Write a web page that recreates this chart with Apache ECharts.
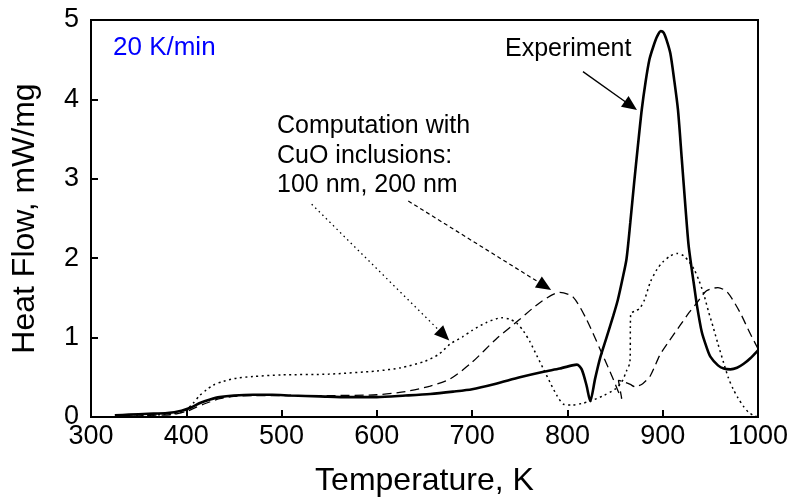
<!DOCTYPE html>
<html><head><meta charset="utf-8">
<script src="https://cdn.jsdelivr.net/npm/echarts@6/dist/echarts.min.js"></script>
<style>html,body{margin:0;padding:0;background:#fff}#c{width:793px;height:502px}</style>
</head><body><div id="c"></div>
<script>
const xTicks = [300, 400, 500, 600, 700, 800, 900, 1000];
const yTicks = [0, 1, 2, 3, 4, 5];

const expT  = [325,340,360,380,395,405,415,425,435,450,470,490,510,540,570,600,630,656,680,700,725,750,775,792,805,810,815,820,824,829,834,841,848,853,858,862,866,870,874,878,882,886,890,894,898,901,904,908,912,916,920,924,927,930,933,936,941,946,950,958,964,971,978,985,992,1000];
const expHF = [0.02,0.03,0.04,0.05,0.08,0.12,0.18,0.22,0.25,0.27,0.28,0.28,0.27,0.26,0.25,0.25,0.27,0.29,0.32,0.35,0.42,0.50,0.57,0.61,0.65,0.66,0.60,0.40,0.20,0.48,0.73,1.00,1.27,1.48,1.75,1.99,2.45,2.95,3.42,3.87,4.22,4.50,4.66,4.79,4.86,4.84,4.75,4.58,4.25,3.87,3.25,2.62,2.18,1.90,1.65,1.40,1.07,0.88,0.76,0.65,0.61,0.60,0.62,0.67,0.74,0.84];

const c100T  = [330,360,385,395,400,407,414,421,428,439,453,470,500,550,600,625,650,665,677,690,700,715,731,740,747,754,761,768,775,782,789,796,805,815,824,838,850,857,862,865.6,866.4,872,876,881,887,894,900,908,915,922,928,933,938,943,948,953,958,964,969,974,979,985,990,995,1000];
const c100HF = [0.00,0.02,0.04,0.06,0.09,0.17,0.27,0.34,0.40,0.45,0.49,0.51,0.53,0.54,0.58,0.62,0.70,0.79,0.92,1.01,1.09,1.19,1.25,1.23,1.18,1.08,0.94,0.77,0.60,0.43,0.27,0.16,0.15,0.17,0.20,0.27,0.35,0.44,0.58,0.69,1.30,1.34,1.37,1.48,1.70,1.86,1.95,2.03,2.06,2.03,1.95,1.86,1.72,1.55,1.33,1.13,0.92,0.68,0.49,0.35,0.24,0.13,0.06,0.02,0.00];

const c200T  = [330,360,385,400,410,420,435,450,470,500,550,600,630,656,677,700,725,750,771,792,806,820,834,848,853,857,853.5,860,866,871,879,887,897,907,918,928,936,946,958,968,981,991,1000];
const c200HF = [0.00,0.02,0.03,0.07,0.12,0.17,0.23,0.26,0.27,0.27,0.27,0.28,0.32,0.39,0.48,0.69,0.98,1.23,1.44,1.57,1.51,1.23,0.86,0.48,0.33,0.23,0.46,0.44,0.41,0.38,0.42,0.52,0.78,0.96,1.15,1.32,1.44,1.59,1.63,1.57,1.32,1.07,0.86];

const FONT = "'Liberation Sans', Arial, sans-serif";
const pairs = (xs, ys) => xs.map((x, i) => [x, ys[i]]);

const chart = echarts.init(document.getElementById('c'), null, {renderer: 'canvas'});
chart.setOption({
  animation: false,
  backgroundColor: '#fff',
  grid: {left: 91, right: 35, top: 20, bottom: 84, show: true, borderColor: '#000', borderWidth: 2, backgroundColor: 'transparent'},
  xAxis: {
    type: 'value', min: xTicks[0], max: xTicks[xTicks.length - 1], interval: 100,
    name: 'Temperature, K', nameLocation: 'middle', nameGap: 48,
    nameTextStyle: {fontFamily: FONT, fontSize: 32, color: '#000'},
    axisLine: {show: true, lineStyle: {color: '#000', width: 2}},
    axisTick: {show: true, inside: true, length: 7, lineStyle: {color: '#000', width: 2}},
    axisLabel: {fontFamily: FONT, fontSize: 27, color: '#000', margin: 6, formatter: v => String(v)},
    splitLine: {show: false}
  },
  yAxis: {
    type: 'value', min: yTicks[0], max: yTicks[yTicks.length - 1], interval: 1,
    name: 'Heat Flow, mW/mg', nameLocation: 'middle', nameGap: 50,
    nameTextStyle: {fontFamily: FONT, fontSize: 32, color: '#000'},
    axisLine: {show: true, lineStyle: {color: '#000', width: 2}},
    axisTick: {show: true, inside: true, length: 7, lineStyle: {color: '#000', width: 2}},
    axisLabel: {fontFamily: FONT, fontSize: 27, color: '#000', margin: 12, formatter: v => String(v)},
    splitLine: {show: false}
  },
  series: [
    {
      name: 'Computation 200 nm', type: 'line', data: pairs(c200T, c200HF), showSymbol: false, smooth: 0.25,
      lineStyle: {color: '#000', width: 1.3, type: [9, 5]},
      markLine: {
        silent: true, symbol: ['none', 'triangle'], symbolSize: [13, 15], label: {show: false},
        lineStyle: {color: '#000', width: 1.2, type: [4, 3]},
        data: [[{coord: [633, 2.72]}, {coord: [776.2, 1.65]}]]
      }
    },
    {
      name: 'Computation 100 nm', type: 'line', data: pairs(c100T, c100HF), showSymbol: false, smooth: 0.25,
      lineStyle: {color: '#000', width: 1.5, type: [2, 3.5]},
      markLine: {
        silent: true, symbol: ['none', 'triangle'], symbolSize: [13, 15], label: {show: false},
        lineStyle: {color: '#000', width: 1.3, type: [1.5, 3.5]},
        data: [[{coord: [531.6, 2.68]}, {coord: [670.4, 1.03]}]]
      }
    },
    {
      name: 'Experiment', type: 'line', data: pairs(expT, expHF), showSymbol: false, smooth: 0.25,
      lineStyle: {color: '#000', width: 2.6},
      markLine: {
        silent: true, symbol: ['none', 'triangle'], symbolSize: [13, 15], label: {show: false},
        lineStyle: {color: '#000', width: 1.3, type: 'solid'},
        data: [[{coord: [816.3, 4.35]}, {coord: [866.6, 3.92]}]]
      }
    }
  ],
  graphic: [
    {type: 'text', left: 113, top: 35, style: {text: '20 K/min', font: "26px " + FONT, fill: '#0000ff'}},
    {type: 'text', left: 505, top: 37, style: {text: 'Experiment', font: "25px " + FONT, fill: '#000'}},
    {type: 'text', left: 277, top: 114, style: {text: 'Computation with', font: "25px " + FONT, fill: '#000'}},
    {type: 'text', left: 277, top: 144, style: {text: 'CuO inclusions:', font: "25px " + FONT, fill: '#000'}},
    {type: 'text', left: 277, top: 173, style: {text: '100 nm, 200 nm', font: "25px " + FONT, fill: '#000'}}
  ]
});
</script></body></html>
